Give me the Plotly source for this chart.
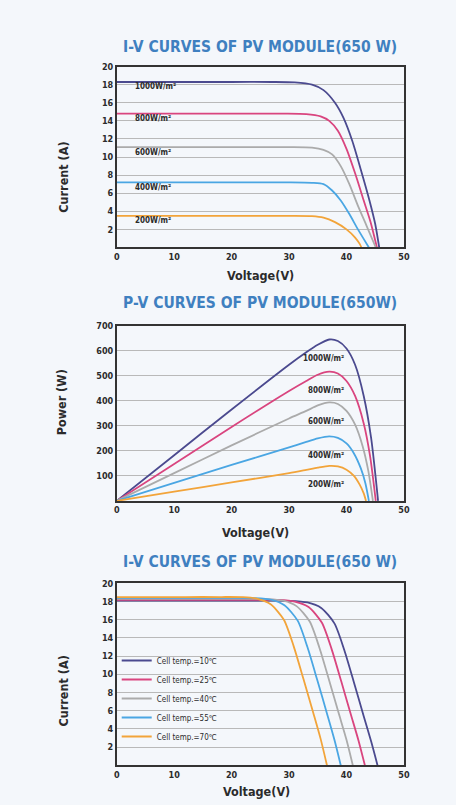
import plotly.graph_objects as go

# ---------------- data ----------------
irr_labels = ['1000W/m²', '800W/m²', '600W/m²', '400W/m²', '200W/m²']

# I-V curves by irradiance (Voltage V, Current A)
iv_v_1000 = [0, 10, 20, 27, 31, 34, 36, 38, 39.5, 41, 42.5, 44, 45, 45.7]
iv_i_1000 = [18.3, 18.3, 18.3, 18.3, 18.25, 18.0, 17.4, 16.0, 14.3, 11.8, 8.6, 5.2, 2.6, 0]
iv_v_800 = [0, 10, 20, 29, 33, 35.5, 37, 38.5, 40, 41.5, 43, 44.2, 45.3]
iv_i_800 = [14.8, 14.8, 14.8, 14.8, 14.75, 14.5, 14.0, 12.9, 10.9, 8.2, 5.2, 2.8, 0]
iv_v_600 = [0, 10, 20, 30, 34, 36, 37.5, 39, 40.5, 42, 43.5, 45.1]
iv_i_600 = [11.1, 11.1, 11.1, 11.1, 11.05, 10.8, 10.3, 9.0, 7.0, 4.6, 2.4, 0]
iv_v_400 = [0, 10, 20, 30, 34, 36, 37.5, 39, 40.5, 42, 43.9]
iv_i_400 = [7.2, 7.2, 7.2, 7.2, 7.15, 7.0, 6.3, 5.2, 3.7, 2.0, 0]
iv_v_200 = [0, 10, 20, 30, 34, 36, 38, 40, 41.5, 42.3, 42.6]
iv_i_200 = [3.5, 3.5, 3.5, 3.5, 3.47, 3.3, 2.8, 2.0, 1.1, 0.4, 0]

# P-V curves by irradiance (Voltage V, Power W)
pv_v_1000 = [0, 10, 20, 30, 33, 35, 37, 38.5, 40, 41.5, 43, 44.3, 45.5]
pv_p_1000 = [0, 183, 366, 545, 595, 625, 646, 640, 610, 545, 420, 250, 0]
pv_v_800 = [0, 10, 20, 30, 33, 35, 37, 38.5, 40, 41.5, 43, 44.1, 45.1]
pv_p_800 = [0, 148, 296, 440, 480, 505, 517, 510, 480, 420, 310, 180, 0]
pv_v_600 = [0, 10, 20, 30, 33, 35, 37, 38.5, 40, 41.5, 42.8, 43.8, 44.6]
pv_p_600 = [0, 111, 222, 330, 360, 382, 394, 388, 360, 305, 220, 120, 0]
pv_v_400 = [0, 10, 20, 30, 33, 35, 37, 38.5, 40, 41.3, 42.5, 43.3, 43.9]
pv_p_400 = [0, 72, 144, 214, 236, 250, 258, 252, 230, 190, 130, 70, 0]
pv_v_200 = [0, 10, 20, 30, 33, 35, 37, 38.5, 40, 41.3, 42.3, 43, 43.4]
pv_p_200 = [0, 37, 74, 111, 124, 133, 140, 138, 125, 100, 65, 30, 0]

# I-V curves by cell temperature
temp_labels = ['Cell temp.=10℃', 'Cell temp.=25℃', 'Cell temp.=40℃',
               'Cell temp.=55℃', 'Cell temp.=70℃']
t_v_10 = [0, 10, 20, 26, 30, 33.2, 35.6, 37.9, 39.6, 41.3, 43, 44.3, 45.4]
t_i_10 = [18.1, 18.1, 18.1, 18.1, 18.08, 17.9, 17.3, 15.6, 12.7, 9.1, 5.4, 2.6, 0]
t_v_25 = [0, 10, 18, 24, 28, 31, 33.4, 35.7, 37.4, 39.1, 40.8, 42.1, 43.2]
t_i_25 = [18.2, 18.2, 18.2, 18.2, 18.18, 18.0, 17.4, 15.7, 12.8, 9.2, 5.5, 2.7, 0]
t_v_40 = [0, 10, 16, 22, 26, 29, 31.3, 33.6, 35.3, 37, 38.7, 40, 41.1]
t_i_40 = [18.3, 18.3, 18.3, 18.3, 18.28, 18.1, 17.5, 15.8, 12.9, 9.3, 5.6, 2.8, 0]
t_v_55 = [0, 8, 14, 20, 24, 27, 29.2, 31.5, 33.2, 34.9, 36.6, 37.9, 39.0]
t_i_55 = [18.4, 18.4, 18.4, 18.4, 18.38, 18.2, 17.6, 15.9, 13.0, 9.4, 5.7, 2.8, 0]
t_v_70 = [0, 6, 12, 18, 22, 24.5, 26.8, 29.1, 30.8, 32.5, 34.2, 35.5, 36.6]
t_i_70 = [18.5, 18.5, 18.5, 18.5, 18.48, 18.3, 17.7, 16.0, 13.1, 9.5, 5.8, 2.9, 0]

x_ticks = [0, 10, 20, 30, 40, 50]
i_ticks = [2, 4, 6, 8, 10, 12, 14, 16, 18, 20]
p_ticks = [100, 200, 300, 400, 500, 600, 700]
chart_titles = ['I-V CURVES OF PV MODULE(650 W)', 'P-V CURVES OF PV MODULE(650W)',
                'I-V CURVES OF PV MODULE(650 W)']

# ---------------- style ----------------
W, H = 456, 805
BG = '#f4f7fb'
COLORS = ['#4b4a8f', '#d9457f', '#ababab', '#4aa6e3', '#f2a43a']
FONT = 'DejaVu Sans Condensed, DejaVu Sans, sans-serif'
TXT = '#2b2b2b'
TITLE_BLUE = '#3f80c0'

fig = go.Figure()

iv_sets = [(iv_v_1000, iv_i_1000), (iv_v_800, iv_i_800), (iv_v_600, iv_i_600),
           (iv_v_400, iv_i_400), (iv_v_200, iv_i_200)]
pv_sets = [(pv_v_1000, pv_p_1000), (pv_v_800, pv_p_800), (pv_v_600, pv_p_600),
           (pv_v_400, pv_p_400), (pv_v_200, pv_p_200)]
t_sets = [(t_v_10, t_i_10), (t_v_25, t_i_25), (t_v_40, t_i_40),
          (t_v_55, t_i_55), (t_v_70, t_i_70)]

label_font = dict(family=FONT, size=8, color=TXT, weight='bold')
line_kw = dict(width=1.8, shape='spline', smoothing=0.7)

for k, (v, i) in enumerate(iv_sets):
    fig.add_trace(go.Scatter(x=v, y=i, mode='lines', xaxis='x', yaxis='y',
                             line=dict(color=COLORS[k], **line_kw),
                             showlegend=False, hoverinfo='skip'))
    fig.add_annotation(x=2.8, y=i[0], xref='x', yref='y', text=irr_labels[k],
                       showarrow=False, xanchor='left', yanchor='middle', yshift=-5,
                       font=label_font)

for k, (v, p) in enumerate(pv_sets):
    fig.add_trace(go.Scatter(x=v, y=p, mode='lines', xaxis='x2', yaxis='y2',
                             line=dict(color=COLORS[k], **line_kw),
                             showlegend=False, hoverinfo='skip'))
    fig.add_annotation(x=40, y=max(p), xref='x2', yref='y2', text=irr_labels[k],
                       showarrow=False, xanchor='right', yanchor='middle', yshift=-19,
                       font=label_font)

for k, (v, i) in enumerate(t_sets):
    fig.add_trace(go.Scatter(x=v, y=i, mode='lines', xaxis='x3', yaxis='y3',
                             name=temp_labels[k],
                             line=dict(color=COLORS[k], **line_kw),
                             showlegend=True, hoverinfo='skip'))

X0, X1 = 116 / W, 409 / W
doms = [(1 - 244 / H, 1 - 62 / H), (1 - 499 / H, 1 - 323 / H), (1 - 765 / H, 1 - 582 / H)]

tickfont = dict(family=FONT, size=9, color=TXT, weight='bold')
common_x = dict(range=[0, 50], tickvals=x_ticks, showgrid=False, zeroline=False,
                showline=True, linecolor='#333333', linewidth=1.5, mirror=True,
                ticks='', tickfont=tickfont, domain=[X0, X1], fixedrange=True)
common_y = dict(showgrid=True, gridcolor='#b9b9b9', gridwidth=1.3, zeroline=False,
                showline=True, linecolor='#333333', linewidth=1.5, mirror=True,
                ticks='', tickfont=tickfont, fixedrange=True)

fig.update_layout(
    width=W, height=H, margin=dict(l=0, r=0, t=0, b=0),
    paper_bgcolor=BG, plot_bgcolor=BG,
    xaxis=dict(common_x, anchor='y'),
    yaxis=dict(common_y, anchor='x', range=[0, 20], tickvals=i_ticks, domain=list(doms[0])),
    xaxis2=dict(common_x, anchor='y2'),
    yaxis2=dict(common_y, anchor='x2', range=[0, 700], tickvals=p_ticks, domain=list(doms[1])),
    xaxis3=dict(common_x, anchor='y3'),
    yaxis3=dict(common_y, anchor='x3', range=[0, 20], tickvals=i_ticks, domain=list(doms[2])),
    legend=dict(x=116 / W, y=1 - 645 / H, xanchor='left', yanchor='top',
                bgcolor='rgba(0,0,0,0)', borderwidth=0, itemwidth=30,
                tracegroupgap=0, font=dict(family=FONT, size=8, color=TXT)),
    showlegend=True,
)

# chart titles
for k, yp in enumerate([42, 300, 560]):
    fig.add_annotation(x=0.5, y=1 - yp / H, xref='x domain' if k == 0 else f'x{k+1} domain',
                       yref='paper', text=chart_titles[k], showarrow=False,
                       xanchor='center', yanchor='middle',
                       font=dict(family=FONT, size=15.5, color=TITLE_BLUE, weight='bold'))

# axis titles
axis_title_font = dict(family=FONT, size=12.5, color=TXT, weight='bold')
for xp, yp in [(263, 272), (258, 531), (259, 791)]:
    fig.add_annotation(x=xp / W, y=1 - yp / H, xref='paper', yref='paper', text='Voltage(V)',
                       showarrow=False, xanchor='center', yanchor='middle', font=axis_title_font)
for xp, yp, t in [(62, 173, 'Current (A)'), (60, 400, 'Power (W)'), (62, 690, 'Current (A)')]:
    fig.add_annotation(x=xp / W, y=1 - yp / H, xref='paper', yref='paper', text=t, textangle=-90,
                       showarrow=False, xanchor='center', yanchor='middle', font=axis_title_font)

fig.write_html("out.html", config={'displayModeBar': False},
               post_script="document.body.style.margin='0';document.body.style.background='" + BG + "';")
